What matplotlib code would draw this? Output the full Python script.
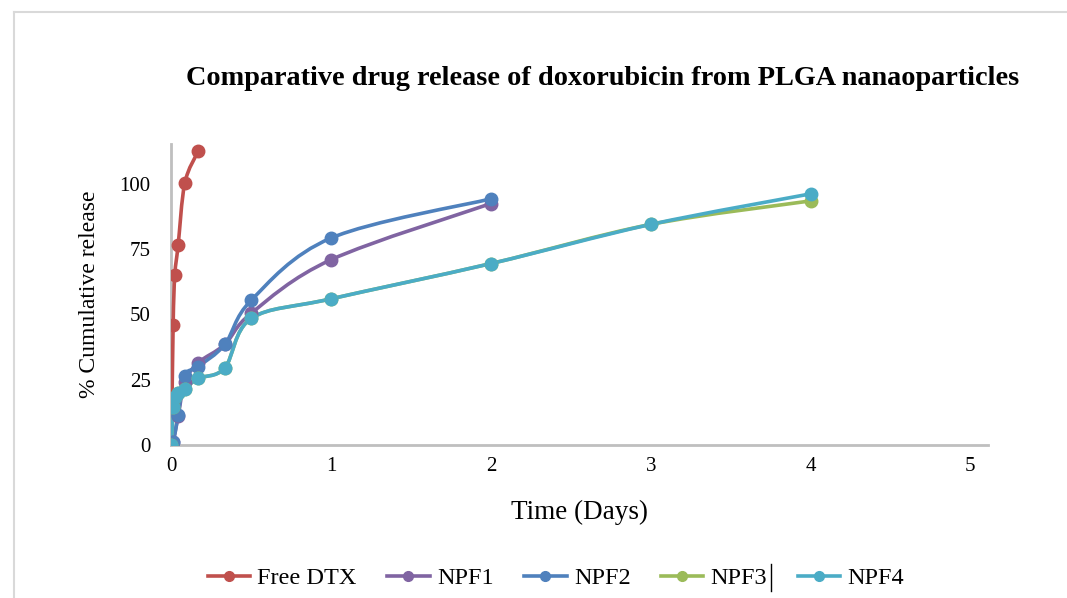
import numpy as np
import matplotlib
matplotlib.use("Agg")
import matplotlib.pyplot as plt
from matplotlib.path import Path
from matplotlib.patches import PathPatch
from matplotlib.lines import Line2D

# time points (days): 0, 15min, 30min, 1h, 2h, 4h, 8h, 12h, 1d ...
t_free = [0, 0.0104, 0.0208, 0.0417, 0.0833, 0.1667]
free_dtx = [0, 46, 65, 76.5, 100.3, 112.5]

t_npf12 = [0, 0.0104, 0.0417, 0.0833, 0.1667, 0.3333, 0.5, 1, 2]
npf1 = [0, 1, 11, 24, 31.5, 38.5, 50.5, 71, 92.5]
npf2 = [0, 1, 11.5, 26.5, 30, 38.5, 55.5, 79.3, 94.3]

t_npf34 = [0, 0.0104, 0.0208, 0.0417, 0.0833, 0.1667, 0.3333, 0.5, 1, 2, 3, 4]
npf3 = [0, 14.5, 18.5, 20, 21.5, 25.5, 29.5, 48.5, 56, 69.5, 84.5, 93.5]
npf4 = [0, 14.5, 18.5, 20, 21.5, 25.5, 29.5, 48.5, 56, 69.5, 84.5, 96.2]

names = ["Free DTX", "NPF1", "NPF2", "NPF3", "NPF4"]
colors = ["#C0504D", "#8064A2", "#4F81BD", "#9BBB59", "#4BACC6"]


def smooth_path(x, y):
    # Catmull-Rom -> cubic bezier, like Excel's smoothed line
    p = np.column_stack([x, y]).astype(float)
    verts = [p[0]]
    codes = [Path.MOVETO]
    n = len(p)
    for i in range(n - 1):
        p0 = p[i - 1] if i > 0 else p[i]
        p1 = p[i]
        p2 = p[i + 1]
        p3 = p[i + 2] if i + 2 < n else p[i + 1]
        c1 = p1 + (p2 - p0) / 6.0
        c2 = p2 - (p3 - p1) / 6.0
        verts += [c1, c2, p2]
        codes += [Path.CURVE4] * 3
    return Path(verts, codes)


plt.rcParams['font.family'] = ['Liberation Serif', 'DejaVu Serif']

fig = plt.figure(figsize=(10.67, 5.98), dpi=100)
ax = fig.add_axes([0.1607, 0.2559, 0.7652, 0.5033])

series = [(t_free, free_dtx), (t_npf12, npf1), (t_npf12, npf2),
          (t_npf34, npf3), (t_npf34, npf4)]
for (tx, ty), name, col in zip(series, names, colors):
    ax.add_patch(PathPatch(smooth_path(tx, ty), facecolor="none",
                           edgecolor=col, lw=2.6, zorder=3, capstyle="round"))
    ax.plot(tx, ty, linestyle="none", marker="o", ms=9, color=col, zorder=4)

ax.set_xlim(0, 5.11)
ax.set_ylim(0, 115.3)
ax.set_xticks([0, 1, 2, 3, 4, 5])
ax.set_yticks([0, 25, 50, 75, 100])
ax.tick_params(length=0, labelsize=15)
ax.tick_params(axis="x", pad=9)
ax.tick_params(axis="y", pad=15)
for s in ["top", "right"]:
    ax.spines[s].set_visible(False)
for s in ["left", "bottom"]:
    ax.spines[s].set_color("#BFBFBF")
    ax.spines[s].set_linewidth(2)
ax.spines["left"].set_zorder(1)

ax.set_xlabel("Time (Days)", fontsize=19.5, labelpad=17)
ax.set_ylabel("% Cumulative release", fontsize=17, labelpad=14)

fig.text(0.565, 0.868, "Comparative drug release of doxorubicin from PLGA nanaoparticles",
         ha="center", va="center", fontsize=20.3, fontweight="bold")

handles = [Line2D([], [], color=c, lw=2.6, marker="o", ms=7) for c in colors]
fig.legend(handles, names, loc="center", bbox_to_anchor=(0.521, 0.033), ncol=5,
           frameon=False, fontsize=17.5, handlelength=1.75, handletextpad=0.3,
           columnspacing=1.25)

# chart frame border
fig.add_artist(Line2D([14 / 1067, 14 / 1067], [0, 1 - 12 / 598], color="#D9D9D9", lw=1.5))
fig.add_artist(Line2D([14 / 1067, 1], [1 - 12 / 598, 1 - 12 / 598], color="#D9D9D9", lw=1.5))
# cursor mark in legend
fig.add_artist(Line2D([771 / 1067, 771 / 1067], [1 - 591 / 598, 1 - 564 / 598], color="black", lw=1))

fig.savefig("out.png", dpi=100, facecolor="white")
